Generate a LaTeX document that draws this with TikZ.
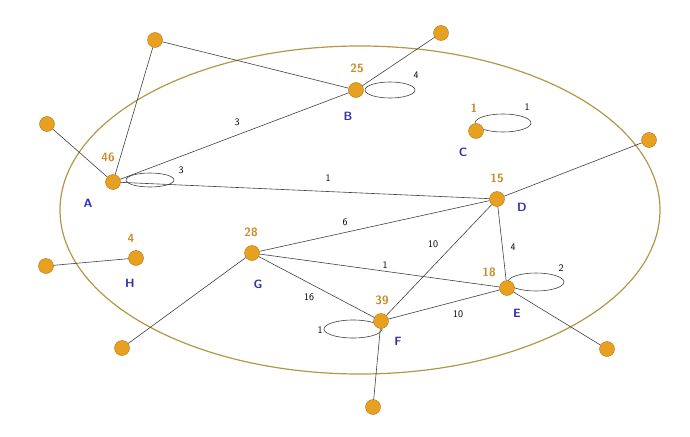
\documentclass[tikz,border=0pt]{standalone}
\usepackage{tikz}
\usetikzlibrary{positioning}
\definecolor{vorange}{RGB}{232,160,32}
\definecolor{vedge}{RGB}{170,120,20}
\definecolor{ring}{RGB}{180,150,70}
\definecolor{lblue}{RGB}{50,50,170}
\definecolor{lgold}{RGB}{200,140,40}
\begin{document}
\begin{tikzpicture}
    [%%%%%%%%%%%%%%%%%%%%%%%%%%%%%%
        x=1pt,y=-1pt,
        vert/.style={circle,fill=vorange,draw=vedge,thin,minimum size=15pt,inner sep=0pt},
        lname/.style={text=lblue,font=\sffamily\bfseries\large},
        lval/.style={text=lgold,font=\sffamily\bfseries\large},
        wt/.style={font=\sffamily},
        edge/.style={draw=black!75,line width=0.6pt}
    ]%%%%%%%%%%%%%%%%%%%%%%%%%%%%%%
\useasboundingbox (0,0) rectangle (690,436);
\draw[ring,line width=1.2pt] (360,210) ellipse (300 and 164);

% self loops
\draw[edge] (150,180) ellipse (24 and 7);
\draw[edge] (390,90) ellipse (25 and 8);
\draw[edge] (503,123) ellipse (28 and 9);
\draw[edge] (536,282) ellipse (28 and 9);
\draw[edge] (353,329) ellipse (29 and 9);

% outer points
\foreach \n/\x/\y in {o1/155/40,o2/441/33,o3/47/124,o4/649/140,o5/46/266,o6/122/348,o7/373/407,o8/607/349}
    \node[vert] (\n) at (\x,\y){};

% vertices
\foreach \n/\x/\y in {A/113/182,B/356/90,C/476/131,D/497/199,E/507/288,F/381/321,G/252/253,H/136/258}
    \node[vert] (\n) at (\x,\y){};

\draw[edge] (o1) -- (B);
\draw[edge] (o1) -- (A);
\draw[edge] (o2) -- (B);
\draw[edge] (o3) -- (A);
\draw[edge] (D) -- (o4);
\draw[edge] (E) -- (o8);
\draw[edge] (F) -- (o7);
\draw[edge] (G) -- (o6);
\draw[edge] (H) -- (o5);
\draw[edge] (A) -- (B);
\draw[edge] (A) -- (D);
\draw[edge] (G) -- (D);
\draw[edge] (F) -- (D);
\draw[edge] (D) -- (E);
\draw[edge] (G) -- (E);
\draw[edge] (G) -- (F);
\draw[edge] (F) -- (E);

% weights
\node[wt] (wab) at (237,122){3};
\node[wt] (wad) at (328,178){1};
\node[wt] (wgd) at (345,222){6};
\node[wt] (wfd) at (433,244){10};
\node[wt] (wde) at (513,247){4};
\node[wt] (wge) at (385,265){1};
\node[wt] (wgf) at (309,297){16};
\node[wt] (wfe) at (458,314){10};
\node[wt] (waa) at (181,170){3};
\node[wt] (wbb) at (416,75){4};
\node[wt] (wcc) at (527,107){1};
\node[wt] (wee) at (561,268){2};
\node[wt] (wff) at (320,330){1};

% names and values
\foreach \n/\x/\y/\t in {nA/88/203/A,nB/348/116/B,nC/463/152/C,nD/522/207/D,nE/517/313/E,nF/398/341/F,nG/258/284/G,nH/130/283/H}
    \node[lname] (\n) at (\x,\y){\t};
\foreach \n/\x/\y/\t in {vA/108/157/46,vB/357/68/25,vC/474/108/1,vD/497/178/15,vE/489/272/18,vF/382/300/39,vG/251/232/28,vH/131/238/4}
    \node[lval] (\n) at (\x,\y){\t};

\end{tikzpicture}
\end{document}
